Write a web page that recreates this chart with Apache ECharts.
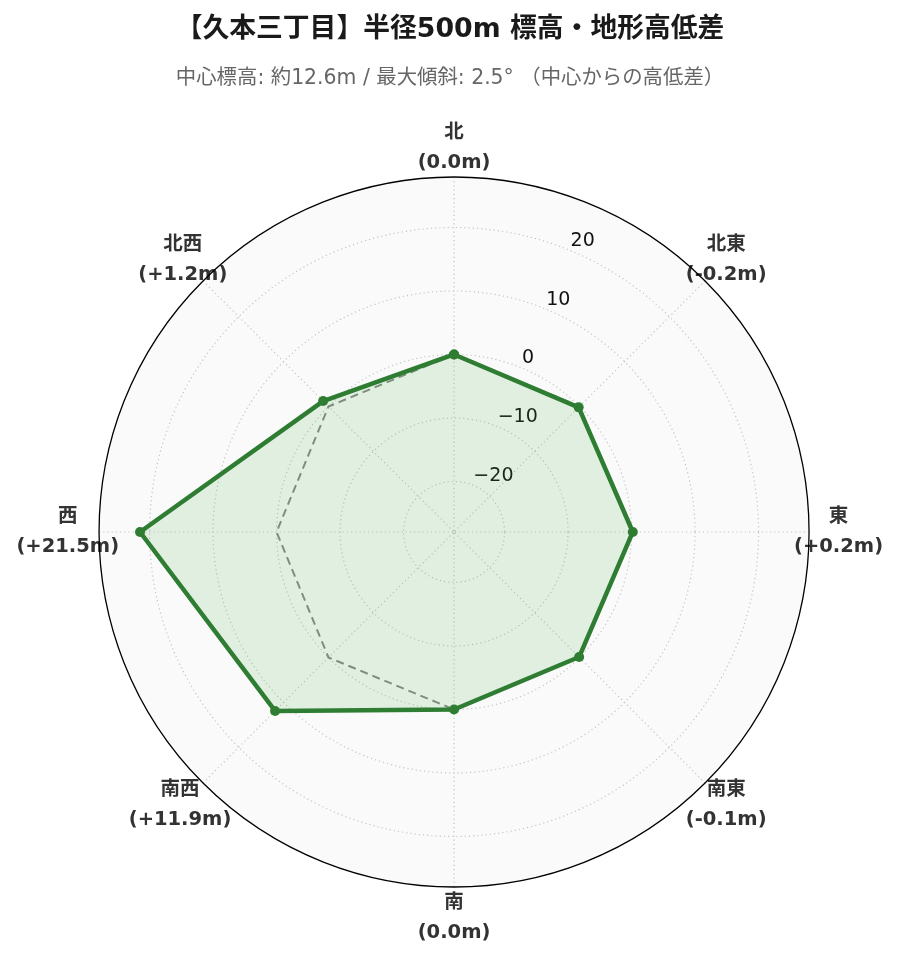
<!DOCTYPE html>
<html>
<head>
<meta charset="utf-8">
<title>久本三丁目 標高・地形高低差</title>
<script src="https://cdn.jsdelivr.net/npm/echarts@6/dist/echarts.min.js"></script>
<style>
html, body { margin: 0; padding: 0; background: #fff; }
#chart { width: 900px; height: 962px; }
</style>
</head>
<body>
<div id="chart"></div>
<script>
// 方位（北から反時計回り）
const directions = ['北', '北西', '西', '南西', '南', '南東', '東', '北東'];
// 中心からの高低差 (m)
const elevDiff = [0.0, 1.2, 21.5, 11.9, 0.0, -0.1, 0.2, -0.2];
// 基準線（中心と同じ高さ）
const baseLine = [0, 0, 0, 0, 0, 0, 0, 0];
// 半径軸の目盛り
const radialTicks = [-20, -10, 0, 10, 20];
const radialMin = -27.95;
const radialMax = 27.95;

// 方位ラベルの位置調整 [上, 右, 下, 左]
const labelPad = [[0, 0, 39, 0], [0, 4, 19, 0], [0, 20, 0, 0], [20, 0, 0, 0],
                  [41, 0, 0, 0], [20, 0, 0, 9], [0, 0, 0, 25], [0, 0, 19, 9]];

function fmtDiff(v) {
  const s = Math.abs(v).toFixed(1);
  if (v > 0) return '+' + s;
  if (v < 0) return '-' + s;
  return s;
}
// 最初の点に戻して閉じる
function closeRing(arr) {
  const pts = arr.map(function (v, i) { return [v, i]; });
  pts.push([arr[0], 0]);
  return pts;
}

const mixFont = "'DejaVu Sans', 'Noto Sans CJK JP', sans-serif";
const nameStyle = { fontSize: 19.5, fontWeight: 'bold', color: '#333', lineHeight: 30, align: 'center', fontFamily: mixFont };
const polarBox = { center: ['50.45%', '55.3%'], radius: 355 };
const gridLine = { type: [1.2, 3], color: '#c4c4c4', width: 1.2 };

const chart = echarts.init(document.getElementById('chart'));
chart.setOption({
  backgroundColor: '#fff',
  animation: false,
  title: {
    text: '【久本三丁目】半径500m 標高・地形高低差',
    subtext: '中心標高: 約12.6m / 最大傾斜: 2.5° （中心からの高低差）',
    left: 'center',
    top: 12,
    itemGap: 25,
    textStyle: { fontSize: 26.8, fontWeight: 'bold', color: '#1a1a1a', fontFamily: mixFont },
    subtextStyle: { fontSize: 20.4, color: '#666', fontFamily: mixFont }
  },
  // 0: 背景用, 1: 本体
  polar: [polarBox, polarBox],
  angleAxis: [
    { polarIndex: 0, show: false },
    {
      polarIndex: 1,
      type: 'category',
      data: directions.map(function (d, i) { return { value: d, textStyle: { padding: labelPad[i] } }; }),
      startAngle: 67.5,
      clockwise: false,
      boundaryGap: true,
      z: 1,
      axisLine: { show: true, lineStyle: { color: '#000', width: 1.3 } },
      axisTick: { show: false, alignWithLabel: true },
      axisLabel: {
        margin: -40,
        formatter: function (value, index) {
          return '{n|' + value + '}\n{v|(' + fmtDiff(elevDiff[index]) + 'm)}';
        },
        rich: { n: nameStyle, v: nameStyle }
      },
      splitLine: { show: true, lineStyle: gridLine }
    }
  ],
  radiusAxis: [
    {
      polarIndex: 0,
      type: 'value',
      min: 0,
      max: 1,
      interval: 1,
      z: 0,
      axisLine: { show: false },
      axisTick: { show: false },
      axisLabel: { show: false },
      splitLine: { show: false },
      splitArea: { show: true, areaStyle: { color: ['#fafafa'] } }
    },
    {
      polarIndex: 1,
      type: 'value',
      min: radialMin,
      max: radialMax,
      z: 1,
      axisLine: { show: false },
      axisTick: { show: false, customValues: radialTicks },
      axisLabel: {
        customValues: radialTicks,
        margin: 0,
        align: 'left',
        verticalAlign: 'bottom',
        fontSize: 19,
        color: '#111',
        fontFamily: 'DejaVu Sans',
        formatter: function (v) {
          if (Math.abs(v) % 10 !== 0) return '';
          return v < 0 ? '\u2212' + Math.abs(v) : String(v);
        }
      },
      splitLine: { show: true, lineStyle: gridLine }
    }
  ],
  series: [
    {
      name: '基準',
      type: 'line',
      coordinateSystem: 'polar',
      polarIndex: 1,
      data: closeRing(baseLine),
      symbol: 'none',
      silent: true,
      lineStyle: { color: '#888', width: 2, type: [8, 5] },
      z: 2
    },
    {
      name: '高低差',
      type: 'line',
      coordinateSystem: 'polar',
      polarIndex: 1,
      data: closeRing(elevDiff),
      symbol: 'circle',
      symbolSize: 10,
      itemStyle: { color: '#2e7d32' },
      lineStyle: { color: '#2e7d32', width: 4.5 },
      areaStyle: { origin: 'start', color: 'rgba(76,175,80,0.2)' },
      z: 3
    }
  ]
});
window.onresize = function () { chart.resize(); };
</script>
</body>
</html>
